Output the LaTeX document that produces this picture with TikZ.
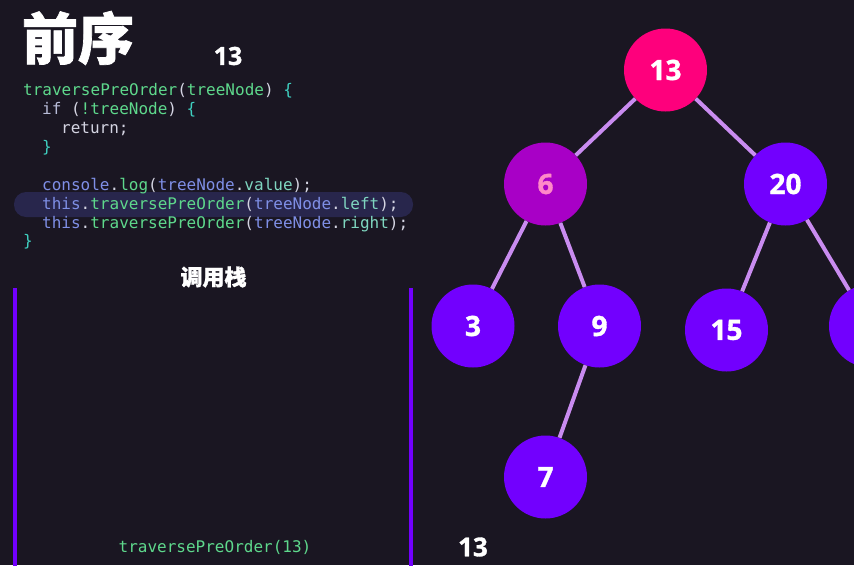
\documentclass[tikz,border=0pt]{standalone}
\usepackage{fontspec}
\setmainfont{Open Sans}[BoldFeatures={FakeBold=1.2}]
\setmonofont{DejaVu Sans Mono}
\newfontfamily\cjk{Noto Sans CJK SC}[BoldFeatures={FakeBold=1.2}]
\definecolor{bg}{HTML}{1A1622}
\definecolor{hl}{HTML}{28264C}
\definecolor{fn}{HTML}{5ED88C}
\definecolor{vr}{HTML}{7F8FE6}
\definecolor{pr}{HTML}{7FD6C0}
\definecolor{pu}{HTML}{D4D4E2}
\definecolor{kw}{HTML}{B8BCD8}
\definecolor{br}{HTML}{3FCFC0}
\definecolor{violet}{HTML}{7200FE}
\definecolor{rootc}{HTML}{FE007C}
\definecolor{curc}{HTML}{A800C6}
\definecolor{curtext}{HTML}{FF88C8}
\definecolor{edgec}{HTML}{C98CF0}
\begin{document}
\begin{tikzpicture}[x=1pt,y=-1pt,
  code/.style={anchor=base west,inner sep=0pt,font=\ttfamily\fontsize{16}{16}\selectfont},
  tnode/.style={circle,minimum size=83pt,inner sep=0pt,fill=violet,text=white,font=\bfseries\fontsize{28}{28}\selectfont},
  tedge/.style={draw=edgec,line width=4pt},
  bar/.style={draw=violet,line width=4pt},
  label/.style={text=white,inner sep=0pt}]
\path[use as bounding box,clip] (0,0) rectangle (854,565);
\fill[bg] (0,0) rectangle (854,565);
% highlight
\fill[hl,rounded corners=12pt] (14,192) rectangle (413,217);
% title
\node[label,font=\cjk\bfseries\fontsize{56}{56}\selectfont] (title) at (78,38) {前序};
\node[label,font=\bfseries\fontsize{25}{25}\selectfont] (out) at (228,56) {13};
% code
\node[code] (c1) at (23,95) {\textcolor{fn}{traversePreOrder}\textcolor{pu}{(}\textcolor{fn}{treeNode}\textcolor{pu}{)} \textcolor{br}{\{}};
\node[code] (c2) at (42,114) {\textcolor{kw}{if} \textcolor{pu}{(}\textcolor{fn}{!treeNode}\textcolor{pu}{)} \textcolor{br}{\{}};
\node[code] (c3) at (61,133) {\textcolor{pu}{return;}};
\node[code] (c4) at (42,152) {\textcolor{br}{\}}};
\node[code] (c5) at (42,190) {\textcolor{vr}{console}\textcolor{pu}{.}\textcolor{fn}{log}\textcolor{pu}{(}\textcolor{vr}{treeNode}\textcolor{pu}{.}\textcolor{pr}{value}\textcolor{pu}{);}};
\node[code] (c6) at (42,209) {\textcolor{vr}{this}\textcolor{pu}{.}\textcolor{fn}{traversePreOrder}\textcolor{pu}{(}\textcolor{vr}{treeNode}\textcolor{pu}{.}\textcolor{pr}{left}\textcolor{pu}{);}};
\node[code] (c7) at (42,228) {\textcolor{vr}{this}\textcolor{pu}{.}\textcolor{fn}{traversePreOrder}\textcolor{pu}{(}\textcolor{vr}{treeNode}\textcolor{pu}{.}\textcolor{pr}{right}\textcolor{pu}{);}};
\node[code] (c8) at (23,246) {\textcolor{br}{\}}};
% call stack
\node[label,font=\cjk\bfseries\fontsize{22}{22}\selectfont] (stk) at (213.5,277) {调用栈};
\coordinate (lb1) at (15,288);
\coordinate (lb2) at (15,566);
\coordinate (rb1) at (410.5,288);
\coordinate (rb2) at (410.5,566);
\draw[bar] (lb1) -- (lb2);
\draw[bar] (rb1) -- (rb2);
\node[code,anchor=center,text=fn] (call) at (215,547) {traversePreOrder(13)};
\node[label,font=\bfseries\fontsize{26}{26}\selectfont] (out2) at (473,547) {13};
% tree
\node[tnode,fill=rootc] (n13) at (665.5,70) {13};
\node[tnode,fill=curc,text=curtext] (n6) at (545.5,184) {6};
\node[tnode] (n20) at (785.5,184) {20};
\node[tnode] (n3) at (473,326) {3};
\node[tnode] (n9) at (599.5,326) {9};
\node[tnode] (n15) at (726.5,330) {15};
\node[tnode] (nr) at (870.5,326) {};
\node[tnode] (n7) at (545.5,477) {7};
\draw[tedge] (n13) -- (n6);
\draw[tedge] (n13) -- (n20);
\draw[tedge] (n6) -- (n3);
\draw[tedge] (n6) -- (n9);
\draw[tedge] (n20) -- (n15);
\draw[tedge] (n20) -- (nr);
\draw[tedge] (n9) -- (n7);
\end{tikzpicture}
\end{document}
